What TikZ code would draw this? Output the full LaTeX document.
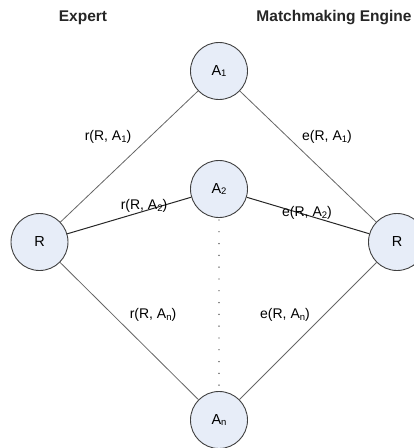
\documentclass[tikz,border=0pt]{standalone}
\usepackage{fontspec}
\setmainfont{Liberation Sans}
\definecolor{agentfill}{RGB}{231,237,248}
\newcommand\lowidx[1]{\raisebox{-1.6pt}{\fontsize{9.5}{10}\selectfont #1}}
\begin{document}
\begin{tikzpicture}[x=1pt,y=-1pt,
  agent/.style={circle,draw=black!75,line width=0.9pt,fill=agentfill,
    minimum size=57pt,inner sep=0pt,font=\fontsize{14.5}{16}\selectfont},
  weak/.style={draw=black!60,line width=0.8pt},
  strong/.style={draw=black!85,line width=1pt},
  lbl/.style={font=\fontsize{14}{16}\selectfont,inner sep=0pt},
  head/.style={font=\fontsize{15.5}{17}\selectfont\bfseries,inner sep=0pt,text=black!85}]
\useasboundingbox (0,0) rectangle (414,448);

% column headings
\node[head] (hexp) at (83,18) {Expert};
\node[head] (heng) at (334,18) {Matchmaking Engine};

% agents and the two sides
\node[agent] (a1) at (219,71)  {A\lowidx{1}};
\node[agent] (a2) at (219,189) {A\lowidx{2}};
\node[agent] (an) at (219,420) {A\lowidx{n}};
\node[agent] (rl) at (39.5,242) {R};
\node[agent] (rr) at (397,242)  {R};

% connectors
\draw[weak]   (rl) -- (a1);
\draw[weak]   (a1) -- (rr);
\draw[strong] (rl) -- (a2);
\draw[strong] (a2) -- (rr);
\draw[weak]   (rl) -- (an);
\draw[weak]   (an) -- (rr);
\draw[black!80, line width=1.4pt, line cap=round, dash pattern=on 0pt off 11.8pt]
  ([yshift=-2pt]a2.south) -- (an.north);

% edge labels
\node[lbl] (r1) at (108,137) {r(R, A\lowidx{1})};
\node[lbl] (e1) at (327,137) {e(R, A\lowidx{1})};
\node[lbl] (r2) at (144,206) {r(R, A\lowidx{2})};
\node[lbl] (e2) at (307,213) {e(R, A\lowidx{2})};
\node[lbl] (rn) at (153,315) {r(R, A\lowidx{n})};
\node[lbl] (en) at (285,315) {e(R, A\lowidx{n})};
\end{tikzpicture}
\end{document}
